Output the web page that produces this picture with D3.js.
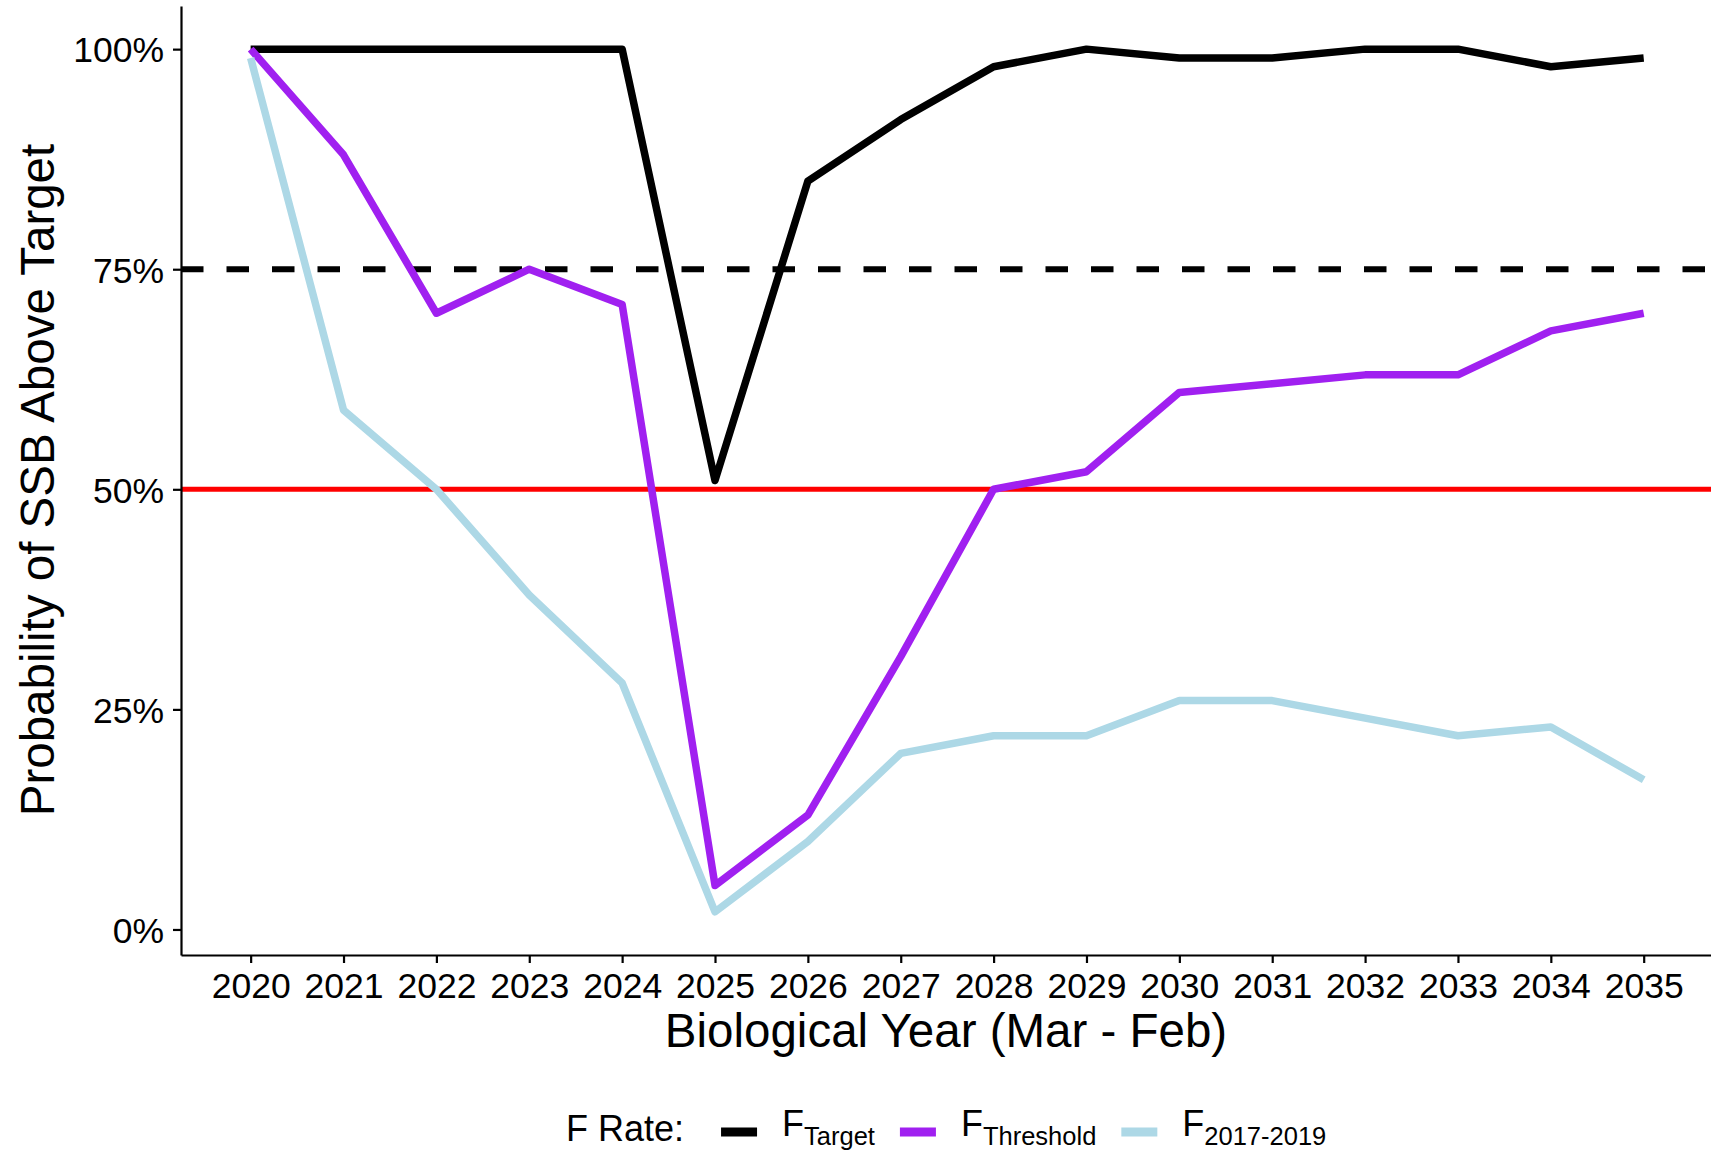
<!DOCTYPE html>
<html>
<head>
<meta charset="utf-8">
<script src="https://cdn.jsdelivr.net/npm/d3@7"></script>
<style>
  body { margin: 0; background: #ffffff; }
  text { font-family: "Liberation Sans", Arial, sans-serif; fill: #000; }
</style>
</head>
<body>
<div id="my_dataviz"></div>
<script>
// data
var years = [2020, 2021, 2022, 2023, 2024, 2025, 2026, 2027, 2028, 2029, 2030, 2031, 2032, 2033, 2034, 2035];
var fTarget    = [100, 100, 100, 100, 100, 51, 85, 92, 98, 100, 99, 99, 100, 100, 98, 99];
var fThreshold = [100, 88, 70, 75, 71, 5, 13, 31, 50, 52, 61, 62, 63, 63, 68, 70];
var f2017_2019 = [99, 59, 50, 38, 28, 2, 10, 20, 22, 22, 26, 26, 24, 22, 23, 17];
var seriesSubs = ["Target", "Threshold", "2017-2019"];
var seriesColors = ["#000000", "#A020F0", "#ADD8E6"];
var yTicks = [0, 25, 50, 75, 100];
var refTarget = 75;   // dashed line
var refLimit = 50;    // red line

var width = 1711;
var height = 1150;

var svg = d3.select("#my_dataviz")
    .append("svg")
    .attr("width", width)
    .attr("height", height);

svg.append("rect")
    .attr("width", width)
    .attr("height", height)
    .attr("fill", "#ffffff");

// scales (ggplot style expansion of 5%)
var x = d3.scaleLinear()
    .domain([2019.25, 2035.75])
    .range([181, 1713.35]);

var y = d3.scaleLinear()
    .domain([-2.9, 104.9])
    .range([955, 6]);

// reference lines
svg.append("line")
    .attr("x1", 181).attr("x2", width)
    .attr("y1", y(refTarget)).attr("y2", y(refTarget))
    .attr("stroke", "#000")
    .attr("stroke-width", 6)
    .attr("stroke-dasharray", "22.5,23");

svg.append("line")
    .attr("x1", 181).attr("x2", width)
    .attr("y1", y(refLimit)).attr("y2", y(refLimit))
    .attr("stroke", "#FF0000")
    .attr("stroke-width", 5);

// series lines
var series = [fTarget, fThreshold, f2017_2019];
var line = d3.line()
    .x(function (d, i) { return x(years[i]); })
    .y(function (d) { return y(d); });

svg.selectAll("allLines")
    .data(series)
    .enter()
    .append("path")
    .attr("d", line)
    .attr("fill", "none")
    .attr("stroke", function (d, i) { return seriesColors[i]; })
    .attr("stroke-width", 7.5)
    .attr("stroke-linejoin", "round")
    .attr("stroke-linecap", "butt");

// axes
var xAxis = svg.append("g")
    .attr("transform", "translate(0,955)")
    .call(d3.axisBottom(x).tickValues(years).tickFormat(d3.format("d"))
        .tickSizeInner(8).tickSizeOuter(0).tickPadding(9));

var yAxis = svg.append("g")
    .attr("transform", "translate(181,0)")
    .call(d3.axisLeft(y).tickValues(yTicks).tickFormat(function (d) { return d + "%"; })
        .tickSizeInner(8).tickSizeOuter(0).tickPadding(9));

[xAxis, yAxis].forEach(function (g) {
    g.select(".domain").attr("stroke", "#000").attr("stroke-width", 2.2);
    g.selectAll(".tick line").attr("stroke", "#000").attr("stroke-width", 2.2);
    g.selectAll(".tick text")
        .style("font-family", "'Liberation Sans', Arial, sans-serif")
        .style("font-size", "35.5px")
        .attr("fill", "#000");
});
xAxis.selectAll(".tick text").attr("dy", "0.72em");
yAxis.selectAll(".tick text").attr("dy", "0.36em");

// axis titles
svg.append("text")
    .attr("x", 946)
    .attr("y", 1047)
    .attr("text-anchor", "middle")
    .style("font-size", "47.5px")
    .text("Biological Year (Mar - Feb)");

svg.append("text")
    .attr("transform", "translate(54,480) rotate(-90)")
    .attr("text-anchor", "middle")
    .style("font-size", "47.5px")
    .text("Probability of SSB Above Target");

// legend
var legend = svg.append("g");
var legendTitle = legend.append("text")
    .attr("x", 566)
    .attr("y", 1141)
    .style("font-size", "36px")
    .text("F Rate:");

var cursor = 566 + legendTitle.node().getComputedTextLength() + 37;
seriesSubs.forEach(function (sub, i) {
    legend.append("line")
        .attr("x1", cursor).attr("x2", cursor + 36)
        .attr("y1", 1132).attr("y2", 1132)
        .attr("stroke", seriesColors[i])
        .attr("stroke-width", 9);
    cursor += 36 + 25;
    var t = legend.append("text")
        .attr("x", cursor)
        .attr("y", 1135.5)
        .style("font-size", "36px");
    t.append("tspan").text("F");
    t.append("tspan")
        .attr("dy", 9)
        .style("font-size", "25.5px")
        .text(sub);
    cursor += t.node().getComputedTextLength() + 25;
});
</script>
</body>
</html>
